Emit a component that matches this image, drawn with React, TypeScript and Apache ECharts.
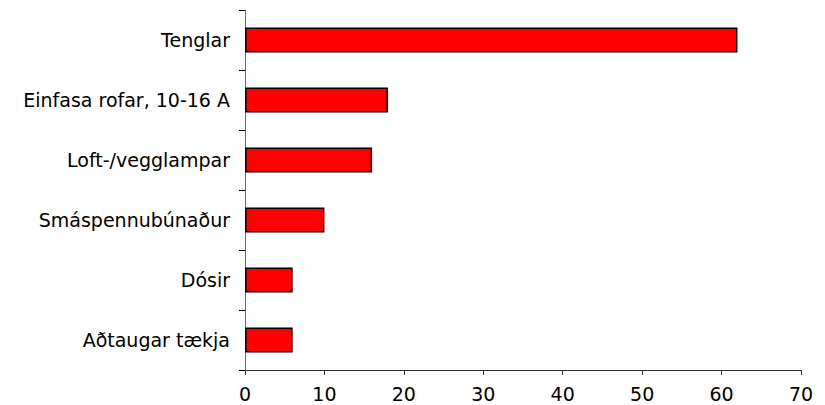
import React, { useEffect, useRef } from "react";
import * as echarts from "echarts";

const categories = [
  "Tenglar",
  "Einfasa rofar, 10-16 A",
  "Loft-/vegglampar",
  "Smáspennubúnaður",
  "Dósir",
  "Aðtaugar tækja",
];
const values = [62, 18, 16, 10, 6, 6];
const xTicks = { min: 0, max: 70, interval: 10 };

const FONT = "DejaVu Sans, Liberation Sans, Arial, sans-serif";

export default function App() {
  const ref = useRef<HTMLDivElement>(null);
  useEffect(() => {
    if (!ref.current) return;
    const chart = echarts.init(ref.current, undefined, { renderer: "svg" });
    chart.setOption({
      animation: false,
      backgroundColor: "#ffffff",
      textStyle: { fontFamily: FONT },
      grid: { left: 245, right: 24, top: 10, bottom: 35, containLabel: false },
      xAxis: {
        type: "value",
        min: xTicks.min,
        max: xTicks.max,
        interval: xTicks.interval,
        splitLine: { show: false },
        axisLine: { show: true, lineStyle: { color: "#333", width: 1 } },
        axisTick: { show: true, length: 5, lineStyle: { color: "#333" } },
        axisLabel: { color: "#000", fontSize: 19, margin: 14, fontFamily: FONT },
      },
      yAxis: {
        type: "category",
        data: categories,
        inverse: true,
        axisLine: { show: true, lineStyle: { color: "#666", width: 1 } },
        axisTick: { show: true, length: 6, lineStyle: { color: "#000" } },
        axisLabel: { color: "#000", fontSize: 19, margin: 15, fontFamily: FONT },
      },
      series: [
        {
          type: "bar",
          data: values,
          barWidth: 25,
          itemStyle: { color: "#FF0000", borderColor: "#000", borderWidth: 1.5 },
        },
      ],
    });
    return () => chart.dispose();
  }, []);
  return <div ref={ref} style={{ width: 825, height: 405, position: "absolute", left: 0, top: 0 }} />;
}
